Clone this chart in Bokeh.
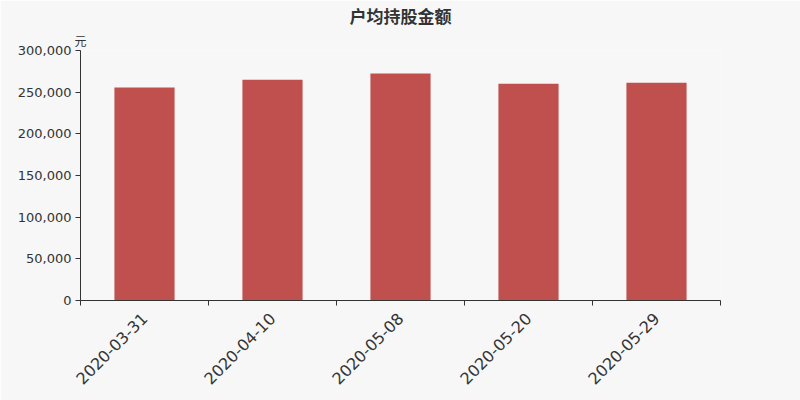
import math
from bokeh.plotting import figure
from bokeh.models import ColumnDataSource, FixedTicker, NumeralTickFormatter, Title, Range1d
from bokeh.embed import file_html
from bokeh.resources import INLINE

dates = ["2020-03-31", "2020-04-10", "2020-05-08", "2020-05-20", "2020-05-29"]
values = [255600, 264800, 272400, 260000, 261200]
y_ticks = [0, 50000, 100000, 150000, 200000, 250000, 300000]
title_text = "户均持股金额"
unit_text = "元"

xs = [i + 0.5 for i in range(len(dates))]
src = ColumnDataSource(dict(x=xs, top=values))

BG = "#f7f7f7"
p = figure(width=800, height=400, output_backend="svg", toolbar_location=None,
           x_range=Range1d(0, len(dates)), y_range=Range1d(0, 300000),
           min_border_left=80, min_border_right=80, min_border_top=50, min_border_bottom=100)
p.background_fill_color = BG
p.border_fill_color = BG
p.outline_line_color = None
p.grid.visible = False

p.vbar(x="x", top="top", width=0.47, bottom=0, source=src, fill_color="#c0504d", line_color=None)

ya = p.yaxis[0]
ya.ticker = FixedTicker(ticks=y_ticks)
ya.formatter = NumeralTickFormatter(format="0,0")
ya.axis_line_color = "#333333"
ya.major_tick_line_color = "#333333"
ya.major_tick_out = 5
ya.major_tick_in = 0
ya.minor_tick_line_color = None
ya.major_label_text_font = "DejaVu Sans"
ya.major_label_text_font_size = "13px"
ya.major_label_text_color = "#333333"
ya.major_label_standoff = 4

xa = p.xaxis[0]
xa.ticker = FixedTicker(ticks=xs, minor_ticks=list(range(len(dates) + 1)))
xa.major_label_overrides = {x: d for x, d in zip(xs, dates)}
xa.major_tick_out = 0
xa.major_tick_in = 0
xa.minor_tick_out = 5
xa.minor_tick_in = 0
xa.minor_tick_line_color = "#333333"
xa.axis_line_color = "#333333"
xa.major_label_orientation = math.pi / 4
xa.major_label_text_font = "DejaVu Sans"
xa.major_label_text_font_size = "16px"
xa.major_label_text_color = "#333333"
xa.major_label_standoff = 10

p.title.text = title_text
p.title.align = "center"
p.title.text_font = "Noto Sans CJK SC"
p.title.text_font_size = "17px"
p.title.text_font_style = "bold"
p.title.text_color = "#333333"
p.title.standoff = 0

p.add_layout(Title(text=unit_text, align="left", offset=-6, text_font="Noto Sans CJK SC",
                   text_font_style="normal", text_font_size="12px", text_color="#333333",
                   standoff=4), "above")

open("out.html", "w").write(file_html(p, INLINE))
